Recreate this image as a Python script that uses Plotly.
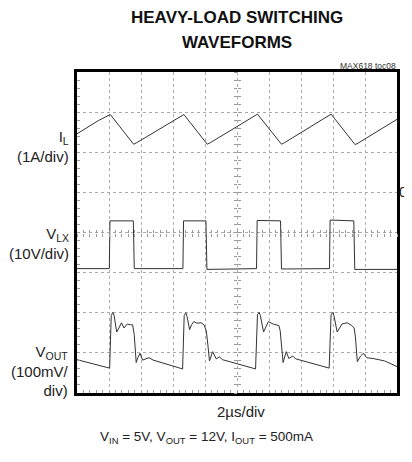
import plotly.graph_objects as go

# time axis in microseconds (2 us/div, 10 divisions); vertical values in scope divisions (8 div)
il_t = [0, 0.72, 1.34, 2.08, 3.54, 3.74, 6.68, 8.14, 8.34, 11.28, 12.78, 12.98, 15.88, 17.38, 17.58, 20.0]
il_v = [6.46, 6.63, 6.79, 6.94, 6.20, 6.24, 6.94, 6.20, 6.24, 6.95, 6.20, 6.24, 6.95, 6.19, 6.23, 6.82]

vlx_t = [0, 2.02, 2.06, 3.52, 3.58, 6.62, 6.66, 8.06, 8.12, 11.22, 11.26, 12.72, 12.78, 15.78, 15.82, 17.30, 17.36, 20.0]
vlx_v = [3.10, 3.10, 4.29, 4.29, 3.10, 3.10, 4.29, 4.29, 3.08, 3.10, 4.30, 4.29, 3.09, 3.10, 4.31, 4.29, 3.08, 3.08]

vout_t = [0, 2.04, 2.14, 2.24, 2.32, 2.48, 2.62, 2.78, 2.94, 3.14, 3.34, 3.48, 3.58, 3.70, 3.80, 3.94, 4.10, 4.30, 4.50, 4.76, 6.60,
          6.70, 6.80, 6.88, 7.04, 7.16, 7.30, 7.50, 7.76, 7.94, 8.08, 8.18, 8.28, 8.48, 8.70, 8.90, 9.10, 11.16,
          11.28, 11.38, 11.46, 11.66, 11.82, 11.96, 12.26, 12.62, 12.70, 12.78, 12.88, 13.08, 13.24, 13.48, 13.68, 15.76,
          15.88, 15.98, 16.06, 16.26, 16.40, 16.56, 16.88, 17.18, 17.32, 17.40, 17.52, 17.72, 17.90, 18.10, 18.50, 19.22, 20.0]
vout_v = [0.83, 0.62, 1.93, 2.01, 1.93, 1.52, 1.62, 1.75, 1.62, 1.72, 1.70, 1.70, 1.44, 0.76, 0.88, 0.99, 0.82, 0.85, 0.88, 0.82, 0.60,
          1.93, 2.00, 1.90, 1.58, 1.70, 1.78, 1.74, 1.75, 1.70, 1.55, 1.20, 0.80, 1.03, 0.85, 0.90, 0.83, 0.60,
          1.95, 2.01, 1.93, 1.52, 1.65, 1.78, 1.72, 1.68, 1.55, 1.19, 0.76, 1.03, 0.86, 0.92, 0.85, 0.62,
          1.95, 2.01, 1.93, 1.52, 1.62, 1.72, 1.75, 1.68, 1.62, 1.40, 0.78, 0.92, 0.99, 0.88, 0.86, 0.80, 0.66]

x_range = [0, 20]
y_range = [0, 8]

FONT = "Liberation Sans, Arial, sans-serif"
TRACE = "#333333"
GRID = "#ababab"
TICK = "#9a9a9a"

fig = go.Figure()
for t, v in [(il_t, il_v), (vlx_t, vlx_v), (vout_t, vout_v)]:
    fig.add_trace(go.Scatter(x=t, y=v, mode="lines", line=dict(color=TRACE, width=1),
                             hoverinfo="skip", showlegend=False))

# invisible carriers for the centre-line tick axes
for xa, ya in [("x2", "y"), ("x3", "y"), ("x", "y2"), ("x", "y3")]:
    fig.add_trace(go.Scatter(x=[None], y=[None], xaxis=xa, yaxis=ya, showlegend=False, hoverinfo="skip"))

axis_common = dict(showticklabels=False, zeroline=False, fixedrange=True)

fig.update_layout(
    # the page body adds an 8px offset, so the figure is sized to fill the 412x462 window exactly
    width=404, height=454,
    margin=dict(l=69, r=13, t=64, b=69),
    paper_bgcolor="white", plot_bgcolor="white",
    font=dict(family=FONT, color="#222"),
    xaxis=dict(range=x_range, dtick=2, tick0=0, showgrid=True, gridcolor=GRID, gridwidth=1,
               griddash="dot", showline=True, linecolor="black", linewidth=3, mirror=True,
               ticks="inside", ticklen=3, tickcolor=TICK,
               minor=dict(dtick=0.4, tick0=0, ticks="inside", ticklen=3, tickcolor=TICK, showgrid=False),
               **axis_common),
    yaxis=dict(range=y_range, dtick=1, tick0=0, showgrid=True, gridcolor=GRID, gridwidth=1,
               griddash="dot", showline=True, linecolor="black", linewidth=3, mirror=True,
               ticks="inside", ticklen=3, tickcolor=TICK,
               minor=dict(dtick=0.2, tick0=0, ticks="inside", ticklen=3, tickcolor=TICK, showgrid=False),
               **axis_common),
    xaxis2=dict(range=x_range, overlaying="x", anchor="free", position=0.5, side="bottom",
                showgrid=False, showline=False, ticks="outside", ticklen=3, tickcolor=TICK, dtick=0.4, tick0=0,
                **axis_common),
    xaxis3=dict(range=x_range, overlaying="x", anchor="free", position=0.5, side="bottom",
                showgrid=False, showline=False, ticks="inside", ticklen=3, tickcolor=TICK, dtick=0.4, tick0=0,
                **axis_common),
    yaxis2=dict(range=y_range, overlaying="y", anchor="free", position=0.5, side="left",
                showgrid=False, showline=False, ticks="outside", ticklen=3, tickcolor=TICK, dtick=0.2, tick0=0,
                **axis_common),
    yaxis3=dict(range=y_range, overlaying="y", anchor="free", position=0.5, side="left",
                showgrid=False, showline=False, ticks="inside", ticklen=3, tickcolor=TICK, dtick=0.2, tick0=0,
                **axis_common),
)

ann = [
    dict(text="<b>HEAVY-LOAD SWITCHING</b>", x=0.5, y=1.171, xanchor="center", yanchor="middle",
         font=dict(size=17, color="#111")),
    dict(text="<b>WAVEFORMS</b>", x=0.5, y=1.093, xanchor="center", yanchor="middle",
         font=dict(size=17, color="#111")),
    dict(text="MAX618 toc08", x=1.0, y=1.020, xanchor="right", yanchor="middle", xshift=1,
         font=dict(size=8.5, color="#333")),
    dict(text="I<sub>L</sub><br>(1A/div)", x=0, y=0.767, xanchor="right", yanchor="middle", xshift=-6,
         align="right", font=dict(size=15)),
    dict(text="V<sub>LX</sub><br>(10V/div)", x=0, y=0.467, xanchor="right", yanchor="middle", xshift=-6,
         align="right", font=dict(size=15)),
    dict(text="V<sub>OUT</sub><br>(100mV/<br>div)", x=0, y=0.0685, xanchor="right", yanchor="middle", xshift=-6,
         align="right", font=dict(size=15)),
    dict(text="0", x=1.0, y=0.626, xanchor="left", yanchor="middle", xshift=0, font=dict(size=14, color="#222")),
    dict(text="2µs/div", x=0.512, y=-0.059, xanchor="center", yanchor="middle", font=dict(size=15)),
    dict(text="V<sub>IN</sub> = 5V, V<sub>OUT</sub> = 12V, I<sub>OUT</sub> = 500mA", x=0.404, y=-0.140,
         xanchor="center", yanchor="middle", font=dict(size=13.5)),
]
for a in ann:
    a.update(xref="paper", yref="paper", showarrow=False)
fig.update_layout(annotations=ann)

fig.write_html("out.html")
